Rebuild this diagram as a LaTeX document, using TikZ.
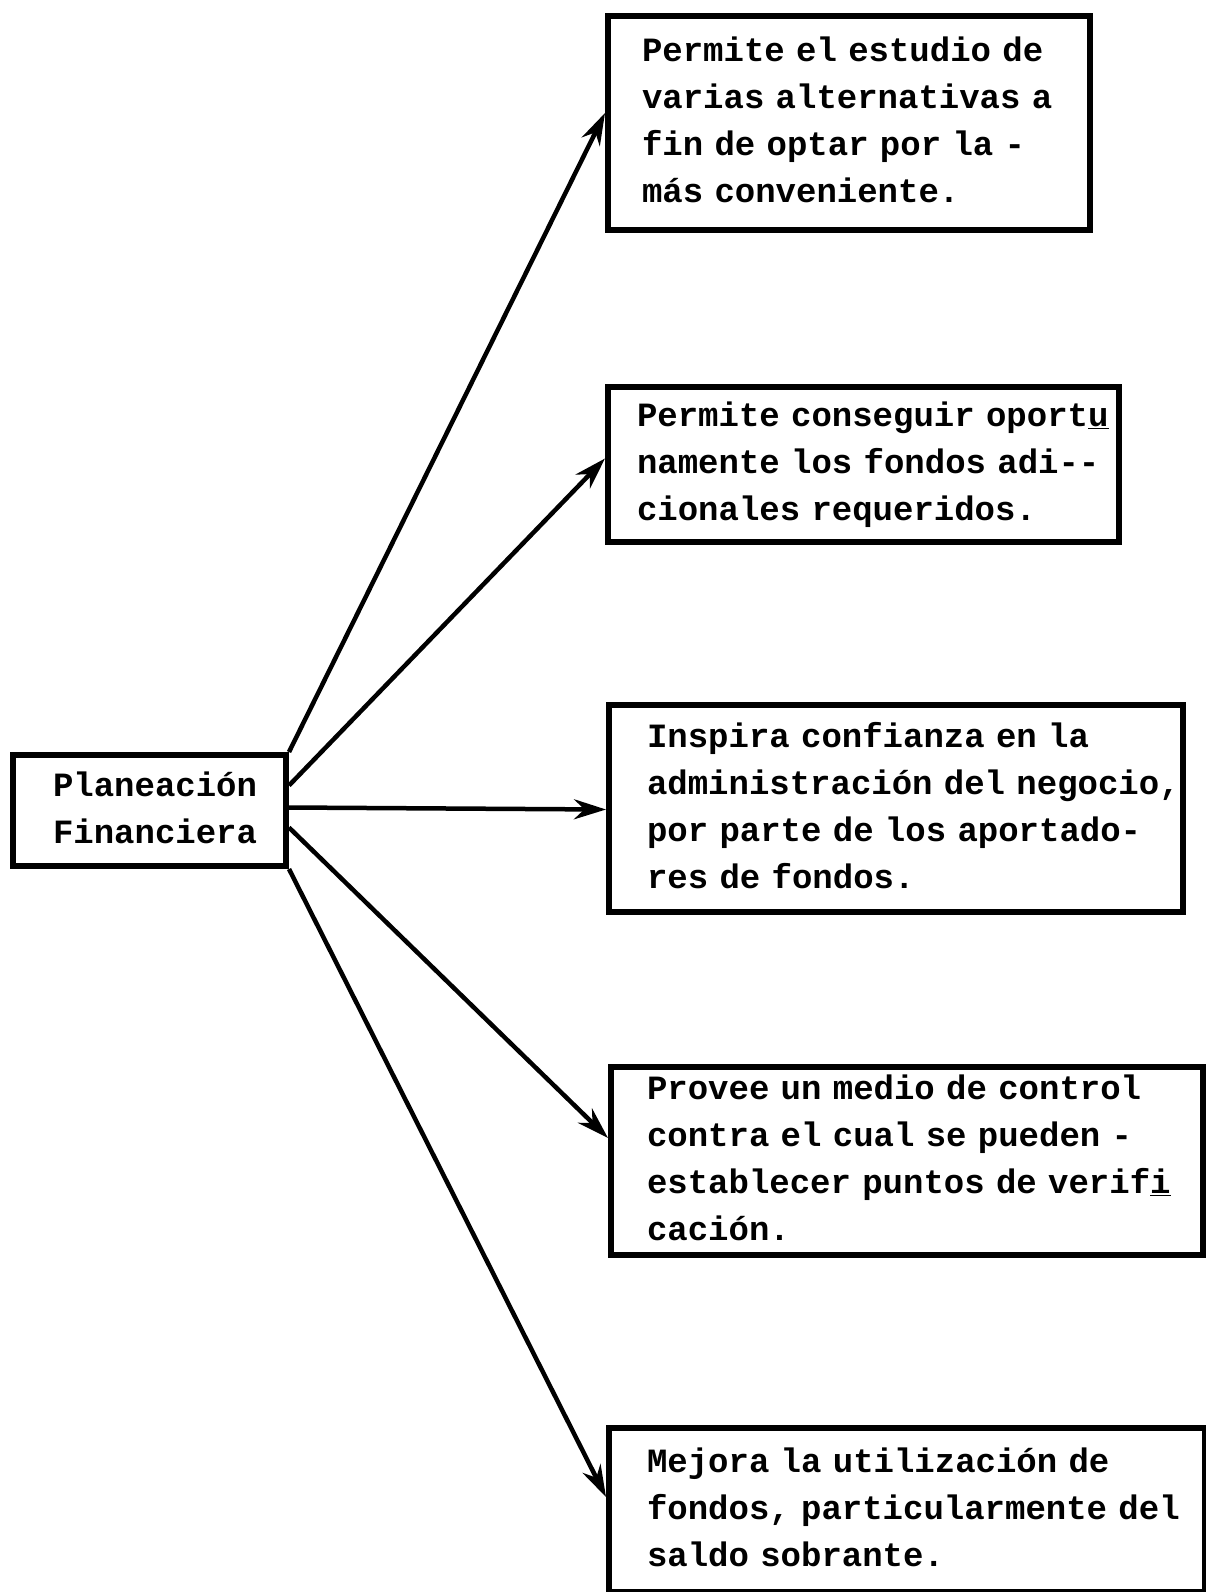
\documentclass[tikz,border=0pt]{standalone}
\usepackage{fontspec}
\newfontfamily\typewriter{Liberation Mono}
\usetikzlibrary{arrows.meta, positioning}

\begin{document}
\begin{tikzpicture}[x=1pt, y=-1pt,
    box/.style={draw, line width=6pt, anchor=north west,
                inner ysep=0pt,
                font=\typewriter\bfseries\fontsize{34}{47}\selectfont},
    link/.style={line width=4.5pt, -{Stealth[length=32pt, width=20pt]}}]
  \useasboundingbox (0,0) rectangle (1205,1592);

  % main box on the left
  \node[box, inner xsep=40pt, text width=193pt, minimum height=111pt]
      (plan) at (10,752)
      {\begin{tabular}{@{}l@{}}Planeación\\Financiera\end{tabular}};

  % the five boxes on the right
  \node[box, inner xsep=34pt, text width=414pt, minimum height=214pt]
      (b1) at (605,13)
      {\begin{tabular}{@{}l@{}}Permite el estudio de\\varias alternativas a\\fin de optar por la -\\más conveniente.\end{tabular}};
  \node[box, inner xsep=29pt, text width=453pt, minimum height=155pt]
      (b2) at (605,384)
      {\begin{tabular}{@{}l@{}}Permite conseguir oport\underline{u}\\namente los fondos adi-{}-\\cionales requeridos.\end{tabular}};
  \node[box, inner xsep=38pt, text width=498pt, minimum height=207pt]
      (b3) at (606,702)
      {\begin{tabular}{@{}l@{}}Inspira confianza en la\\administración del negocio,\\por parte de los aportado-\\res de fondos.\end{tabular}};
  \node[box, inner xsep=36pt, text width=520pt, minimum height=188pt]
      (b4) at (608,1064)
      {\begin{tabular}{@{}l@{}}Provee un medio de control\\contra el cual se pueden -\\establecer puntos de verif\underline{i}\\cación.\end{tabular}};
  \node[box, inner xsep=38pt, text width=520pt, minimum height=164pt]
      (b5) at (606,1425)
      {\begin{tabular}{@{}l@{}}Mejora la utilización de\\fondos, particularmente del\\saldo sobrante.\end{tabular}};

  % arrows: start anchor / shift, target / shift
  \foreach \s/\sy/\t/\ty in {north east/0/b1/10, east/25/b2/6, east/3/b3/-1,
                             east/-17/b4/23, south east/0/b5/13}
    \draw[link] ([yshift=\sy pt]plan.\s) -- ([yshift=\ty pt]\t.west);
\end{tikzpicture}
\end{document}
